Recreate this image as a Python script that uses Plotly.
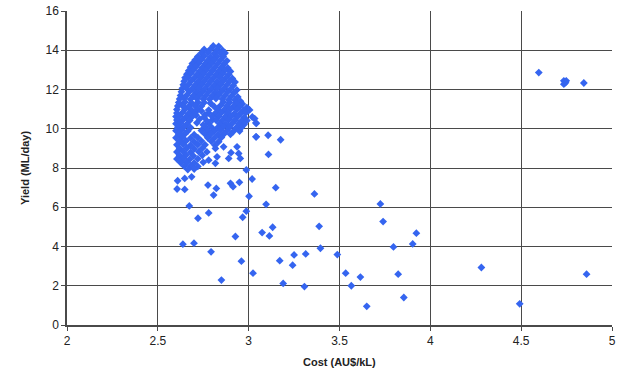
import plotly.graph_objects as go

# --- data ---
cost = [
    # dense cluster, upper part
    2.805, 2.835,
    2.755, 2.79, 2.825, 2.855,
    2.74, 2.775, 2.81, 2.845, 2.87,
    2.72, 2.755, 2.79, 2.825, 2.86,
    2.705, 2.74, 2.775, 2.81, 2.845, 2.88,
    2.69, 2.725, 2.76, 2.795, 2.83, 2.865,
    2.68, 2.71, 2.745, 2.78, 2.815, 2.85, 2.885,
    2.67, 2.695, 2.73, 2.765, 2.80, 2.835, 2.87, 2.90,
    2.66, 2.68, 2.715, 2.75, 2.785, 2.82, 2.855, 2.89,
    2.65, 2.665, 2.70, 2.735, 2.77, 2.805, 2.84, 2.875, 2.91,
    2.645, 2.685, 2.72, 2.755, 2.79, 2.825, 2.86, 2.895, 2.925,
    2.64, 2.67, 2.705, 2.74, 2.775, 2.81, 2.845, 2.88, 2.915,
    2.635, 2.655, 2.69, 2.725, 2.76, 2.795, 2.83, 2.865, 2.90, 2.935,
    2.63, 2.675, 2.71, 2.745, 2.78, 2.815, 2.85, 2.885, 2.92,
    2.625, 2.66, 2.695, 2.73, 2.765, 2.80, 2.835, 2.87, 2.905, 2.94,
    2.62, 2.645, 2.68, 2.715, 2.75, 2.785, 2.82, 2.855, 2.89, 2.925, 2.955,
    # dense cluster, middle part
    2.615, 2.65, 2.685, 2.72, 2.755, 2.79, 2.86, 2.895, 2.93, 2.965,
    2.61, 2.635, 2.67, 2.705, 2.74, 2.81, 2.845, 2.88, 2.915, 2.95, 2.99,
    2.605, 2.65, 2.685, 2.72, 2.83, 2.865, 2.90, 2.935, 2.97, 3.005,
    2.605, 2.635, 2.67, 2.705, 2.78, 2.815, 2.85, 2.885, 2.92, 2.955, 2.985,
    2.60, 2.62, 2.655, 2.69, 2.835, 2.87, 2.905, 2.94, 2.975, 3.02,
    2.605, 2.64, 2.675, 2.80, 2.82, 2.855, 2.89, 2.925, 2.96, 2.99,
    2.60, 2.625, 2.66, 2.78, 2.84, 2.875, 2.91, 2.945, 2.975, 3.04,
    2.61, 2.645, 2.68, 2.76, 2.795, 2.83, 2.86, 2.895, 2.93, 2.96,
    2.60, 2.63, 2.665, 2.74, 2.775, 2.81, 2.845, 2.88, 2.915, 2.95,
    2.74, 2.76, 2.73, 2.77, 2.75, 2.715, 2.78, 2.71, 2.755, 2.80,
    # dense cluster, lower part
    2.615, 2.65, 2.70, 2.76, 2.79, 2.83, 2.865, 2.90,
    2.60, 2.635, 2.68, 2.72, 2.775, 2.81, 2.85,
    2.62, 2.655, 2.70, 2.74, 2.795, 2.835,
    2.605, 2.64, 2.68, 2.72, 2.76, 2.815,
    2.62, 2.66, 2.70, 2.745,
    2.605, 2.64, 2.68, 2.725, 2.77,
    2.62, 2.655, 2.695, 2.745,
    2.605, 2.64, 2.675, 2.72,
    2.625, 2.66, 2.70, 2.75,
    2.645, 2.68, 2.72,
    2.665, 2.70,
    # points around the cluster edge
    3.033, 3.042, 3.042, 2.903, 2.945, 2.954, 2.936, 2.862, 2.817, 2.826, 2.89, 2.78, 2.817,
    # scattered points
    3.04, 3.107, 3.176, 3.109, 2.987, 3.019, 3.149, 3.362, 3.002, 3.096,
    2.987, 2.967, 3.132, 3.074, 3.114, 3.388, 3.395, 3.25, 3.314, 3.488,
    3.171, 3.242, 2.96, 3.024, 3.19, 3.307, 3.534, 3.565, 3.615, 3.65,
    3.725, 3.74, 3.797, 3.823, 3.854, 3.903, 3.923, 4.281, 4.492,
    4.597, 4.735, 4.748, 4.735, 4.744, 4.845, 4.86,
    2.673, 2.721, 2.78, 2.927, 2.638, 2.699, 2.793, 2.85,
    2.609, 2.648, 2.686, 2.606, 2.648, 2.776, 2.822, 2.807, 2.90, 2.914, 2.949,
]

yield_ = [
    14.22, 14.20,
    14.04, 14.06, 14.03, 14.00,
    13.86, 13.88, 13.84, 13.87, 13.86,
    13.68, 13.70, 13.66, 13.69, 13.68,
    13.50, 13.52, 13.48, 13.51, 13.50, 13.46,
    13.32, 13.34, 13.30, 13.33, 13.32, 13.30,
    13.14, 13.16, 13.12, 13.15, 13.14, 13.12, 13.10,
    12.96, 12.98, 12.94, 12.97, 12.96, 12.94, 12.98, 12.92,
    12.78, 12.80, 12.76, 12.79, 12.78, 12.76, 12.80, 12.76,
    12.60, 12.62, 12.58, 12.61, 12.60, 12.58, 12.62, 12.60, 12.56,
    12.42, 12.44, 12.40, 12.43, 12.42, 12.40, 12.44, 12.42, 12.38,
    12.24, 12.26, 12.22, 12.25, 12.24, 12.22, 12.26, 12.24, 12.20,
    12.06, 12.08, 12.04, 12.07, 12.06, 12.04, 12.08, 12.06, 12.02, 11.98,
    11.88, 11.90, 11.86, 11.89, 11.88, 11.86, 11.90, 11.88, 11.84,
    11.70, 11.72, 11.68, 11.71, 11.70, 11.68, 11.72, 11.70, 11.66, 11.62,
    11.52, 11.54, 11.50, 11.53, 11.52, 11.50, 11.54, 11.52, 11.48, 11.46, 11.40,
    11.34, 11.36, 11.32, 11.35, 11.34, 11.30, 11.36, 11.34, 11.30, 11.26,
    11.16, 11.18, 11.14, 11.17, 11.16, 11.14, 11.18, 11.16, 11.12, 11.14, 11.08,
    10.98, 11.00, 10.96, 10.99, 10.98, 10.96, 11.00, 10.98, 10.94, 10.96,
    10.80, 10.82, 10.78, 10.81, 10.80, 10.78, 10.82, 10.80, 10.76, 10.78, 10.82,
    10.62, 10.64, 10.60, 10.63, 10.62, 10.60, 10.64, 10.62, 10.58, 10.60,
    10.44, 10.46, 10.42, 10.45, 10.44, 10.42, 10.46, 10.44, 10.40, 10.42,
    10.26, 10.28, 10.24, 10.27, 10.26, 10.24, 10.28, 10.26, 10.22, 10.30,
    10.08, 10.10, 10.06, 10.09, 10.08, 10.06, 10.10, 10.08, 10.04, 10.06,
    9.90, 9.92, 9.88, 9.91, 9.90, 9.88, 9.92, 9.90, 9.86, 9.88,
    10.90, 10.70, 10.50, 10.40, 10.20, 10.30, 10.95, 10.70, 10.60, 10.62,
    9.72, 9.74, 9.70, 9.73, 9.72, 9.70, 9.74, 9.72,
    9.54, 9.56, 9.52, 9.55, 9.54, 9.52, 9.56,
    9.36, 9.38, 9.34, 9.37, 9.36, 9.34,
    9.18, 9.20, 9.16, 9.19, 9.18, 9.16,
    9.00, 9.02, 8.98, 9.01,
    8.82, 8.84, 8.80, 8.83, 8.82,
    8.64, 8.66, 8.62, 8.65,
    8.46, 8.48, 8.44, 8.47,
    8.28, 8.30, 8.26, 8.29,
    8.10, 8.12, 8.08,
    7.92, 7.95,
    10.52, 10.27, 9.59, 8.78, 8.74, 8.49, 9.08, 9.08, 9.00, 8.57, 8.49, 8.40, 8.24,
    9.59, 9.67, 9.44, 8.69, 7.90, 7.44, 7.00, 6.68, 6.56, 6.15,
    5.80, 5.49, 4.98, 4.71, 4.54, 5.03, 3.91, 3.57, 3.62, 3.59,
    3.28, 3.05, 3.25, 2.64, 2.12, 1.96, 2.64, 2.00, 2.44, 0.95,
    6.17, 5.27, 3.98, 2.59, 1.40, 4.13, 4.68, 2.93, 1.08,
    12.86, 12.44, 12.44, 12.27, 12.35, 12.33, 2.59,
    6.07, 5.44, 5.71, 4.51, 4.12, 4.17, 3.73, 2.29,
    7.35, 7.47, 7.55, 6.93, 6.91, 7.13, 6.96, 6.62, 7.22, 7.05, 7.27,
]

x_ticks = [2, 2.5, 3, 3.5, 4, 4.5, 5]
x_tick_labels = ["2", "2.5", "3", "3.5", "4", "4.5", "5"]
y_ticks = [0, 2, 4, 6, 8, 10, 12, 14, 16]
x_title = "Cost (AU$/kL)"
y_title = "Yield (ML/day)"

fig = go.Figure()
fig.add_trace(go.Scatter(
    x=cost, y=yield_, mode="markers",
    marker=dict(symbol="diamond", size=6, color="#3565f0", line=dict(width=0)),
    showlegend=False,
))

font_family = "Liberation Sans, Arial, sans-serif"
fig.update_layout(
    width=619, height=372,
    margin=dict(l=67, r=7, t=11, b=47),
    paper_bgcolor="white", plot_bgcolor="white",
    font=dict(family=font_family, size=12, color="#222"),
)
common = dict(
    showgrid=True, gridcolor="#4a4a4a", gridwidth=1,
    showline=True, linecolor="#4a4a4a", linewidth=1.5,
    ticks="outside", ticklen=4, tickcolor="#4a4a4a",
    zeroline=False, automargin=False,
    tickfont=dict(size=12, color="#222"),
)
fig.update_xaxes(range=[2, 5], tickvals=x_ticks, ticktext=x_tick_labels, **common)
fig.update_yaxes(range=[0, 16], tickvals=y_ticks, **common)

fig.add_annotation(
    text="<b>" + x_title + "</b>", xref="paper", yref="paper",
    x=0.5, y=0.0, yshift=-37, showarrow=False, yanchor="middle",
    font=dict(size=11, color="#222"),
)
fig.add_annotation(
    text="<b>" + y_title + "</b>", xref="paper", yref="paper",
    x=0, y=0.5, xshift=-42, showarrow=False, textangle=-90, xanchor="center",
    font=dict(size=11, color="#222"),
)

fig.write_html(
    "out.html",
    config={"displayModeBar": False},
    post_script="document.body.style.margin='0';document.body.style.overflow='hidden';",
)
